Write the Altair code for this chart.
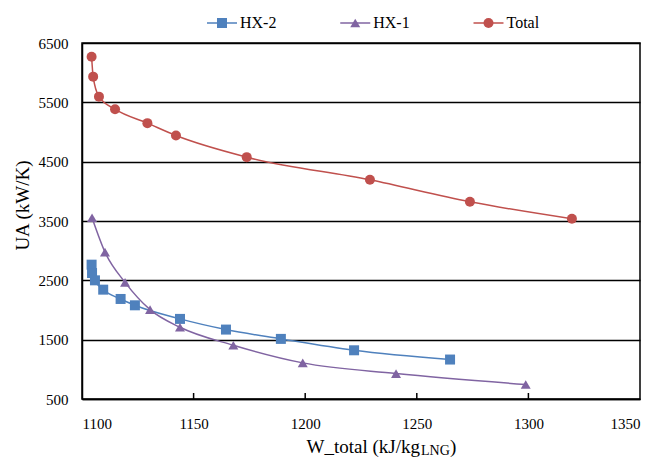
import altair as alt
import pandas as pd

# ---- data ----
series_names = ["HX-2", "HX-1", "Total"]
series_colors = ["#4F81BD", "#8064A2", "#C0504D"]
series_shapes = ["square", "triangle-up", "circle"]

hx2_w = [1104.3, 1104.5, 1105.8, 1109.5, 1117.3, 1123.7, 1143.9, 1164.5, 1189.1, 1221.9, 1264.9]
hx2_ua = [2764, 2623, 2500, 2343, 2186, 2079, 1850, 1670, 1513, 1321, 1165]

hx1_w = [1104.5, 1110.3, 1119.3, 1130.5, 1143.9, 1167.8, 1198.9, 1240.7, 1298.8]
hx1_ua = [3555, 2975, 2466, 2006, 1709, 1406, 1109, 929, 744]

total_w = [1104.3, 1105.0, 1107.6, 1114.8, 1129.3, 1142.1, 1173.8, 1229.0, 1273.8, 1319.5]
total_ua = [6269, 5933, 5596, 5384, 5149, 4940, 4576, 4194, 3824, 3538]

x_ticks = [1100, 1150, 1200, 1250, 1300, 1350]
x_inner_ticks = [1150, 1200, 1250, 1300]
y_ticks = [500, 1500, 2500, 3500, 4500, 5500, 6500]

x_title_main = "W_total (kJ/kg"
x_title_sub = "LNG"
x_title_end = ")"
y_title = "UA (kW/K)"

rows = []
for name, ws, uas in [("HX-2", hx2_w, hx2_ua), ("HX-1", hx1_w, hx1_ua), ("Total", total_w, total_ua)]:
    for w, u in zip(ws, uas):
        rows.append({"series": name, "W": w, "UA": u})
df = pd.DataFrame(rows)
legend_df = pd.DataFrame({"series": series_names})

FONT = "Liberation Serif"
W, H = 558, 356

x_scale = alt.Scale(domain=[1100, 1350], nice=False)
y_scale = alt.Scale(domain=[500, 6500], nice=False)

x_enc = alt.X("W:Q", scale=x_scale,
              axis=alt.Axis(values=x_ticks, title=None, grid=False, ticks=False, tickSize=0,
                            format="d",
                            labelFont=FONT, labelFontSize=15, labelColor="black",
                            labelPadding=17, domainColor="black", domainWidth=1.5))
x_enc_noaxis = alt.X("W:Q", scale=x_scale, axis=None)
y_enc = alt.Y("UA:Q", scale=y_scale,
              axis=alt.Axis(values=y_ticks, title=y_title, grid=True, gridColor="black",
                            gridWidth=1.5, gridOpacity=1, ticks=False, tickSize=0,
                            format="d",
                            labelFont=FONT, labelFontSize=15, labelColor="black",
                            labelPadding=14, domainColor="black", domainWidth=1.5,
                            titleFont=FONT, titleFontSize=19, titleFontWeight="normal",
                            titleColor="black", titleAngle=270, titleX=-60, titleY=162,
                            titleAlign="center", titleBaseline="middle"))

color_enc = alt.Color("series:N", scale=alt.Scale(domain=series_names, range=series_colors), legend=None)
shape_enc = alt.Shape("series:N", scale=alt.Scale(domain=series_names, range=series_shapes), legend=None)

base = alt.Chart(df)

lines = base.mark_line(interpolate="monotone", strokeWidth=1.5).encode(
    x=x_enc, y=y_enc, color=color_enc, detail="series:N"
)

points = base.mark_point(filled=True, opacity=1, size=100).encode(
    x=x_enc_noaxis, y=y_enc, color=color_enc, shape=shape_enc
)

ticks = alt.Chart(pd.DataFrame({"t": x_inner_ticks})).mark_rule(color="black", strokeWidth=1.5).encode(
    x=alt.X("t:Q", scale=x_scale, axis=None), y=alt.value(H), y2=alt.value(H - 6)
)

# legend drawn as marks
leg_x = alt.X("series:N", scale=alt.Scale(domain=series_names, range=[140, 406.5], padding=0), axis=None)
leg_lines = alt.Chart(legend_df).mark_point(
    shape="M-1,0L1,0", size=900, filled=False, strokeWidth=1.5, opacity=1
).encode(x=leg_x, y=alt.value(-20), color=color_enc)
leg_pts = alt.Chart(legend_df).mark_point(filled=True, opacity=1, size=100).encode(
    x=leg_x, y=alt.value(-20), color=color_enc, shape=shape_enc
)
leg_text = alt.Chart(legend_df).mark_text(
    font=FONT, fontSize=16, align="left", baseline="middle", dx=18, color="black"
).encode(x=leg_x, y=alt.value(-20), text="series:N")

t_main = alt.Chart(pd.DataFrame({"t": [x_title_main]})).mark_text(
    font=FONT, fontSize=19, align="right", baseline="alphabetic", color="black"
).encode(text="t:N", x=alt.value(338), y=alt.value(410))

t_sub = alt.Chart(pd.DataFrame({"t": [x_title_sub]})).mark_text(
    font=FONT, fontSize=14, align="left", baseline="alphabetic", color="black"
).encode(text="t:N", x=alt.value(339), y=alt.value(412))

t_end = alt.Chart(pd.DataFrame({"t": [x_title_end]})).mark_text(
    font=FONT, fontSize=19, align="left", baseline="alphabetic", color="black"
).encode(text="t:N", x=alt.value(368), y=alt.value(410))

chart = alt.layer(lines, points, ticks, leg_lines, leg_pts, leg_text, t_main, t_sub, t_end).resolve_scale(
    x="independent", y="shared"
).properties(
    width=W, height=H,
    autosize=alt.AutoSizeParams(type="none"),
    padding={"left": 74, "top": 35, "right": 10, "bottom": 59},
    background="white",
).configure_view(stroke="black", strokeWidth=1.5)

chart.save("out.html", embed_options={"renderer": "svg", "actions": False})
